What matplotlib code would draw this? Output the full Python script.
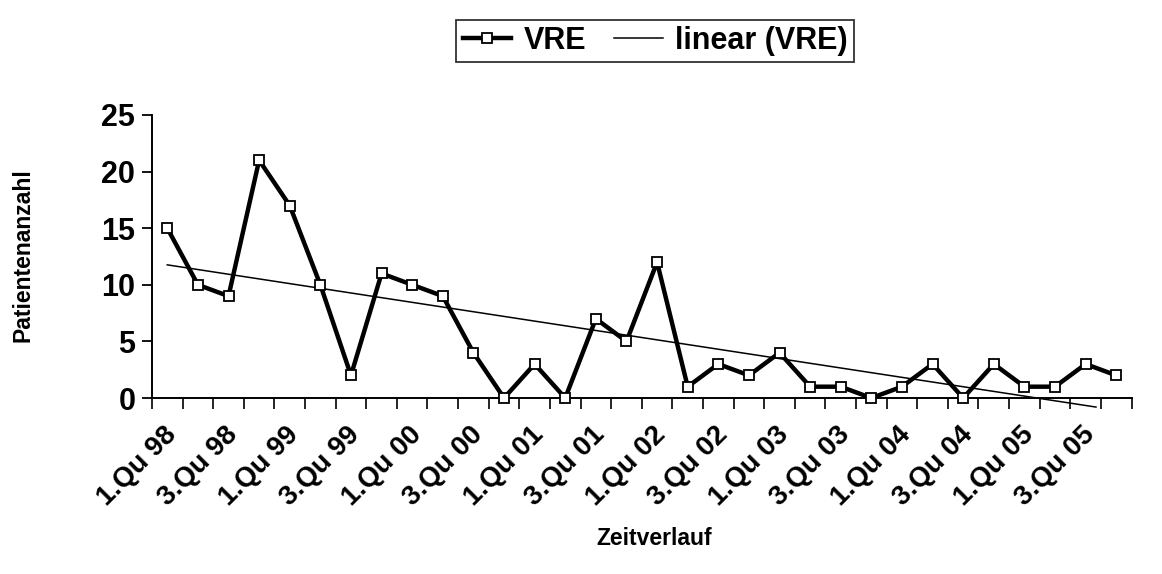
import numpy as np
import matplotlib.pyplot as plt
from matplotlib.ticker import FixedLocator
from matplotlib.transforms import ScaledTranslation

plt.rcParams['font.family'] = ['Liberation Sans', 'DejaVu Sans']

quarters = [f"{q}.Qu {y:02d}" for y in (98, 99, 0, 1, 2, 3, 4, 5) for q in (1, 2, 3, 4)]
vre = [15, 10, 9, 21, 17, 10, 2, 11, 10, 9, 4, 0, 3, 0, 7, 5,
       12, 1, 3, 2, 4, 1, 1, 0, 1, 3, 0, 3, 1, 1, 3, 2]

x = np.arange(len(vre))
fig = plt.figure(figsize=(11.62, 5.74), dpi=100)
ax = fig.add_axes([0.1308, 0.3066, 0.843, 0.4931])

ax.plot(x, vre, color='black', lw=3.2, marker='s', ms=7.5,
        mfc='white', mec='black', mew=1.3, label='VRE', zorder=3,
        clip_on=False)

# linear trend, stopped a little below the axis like the original
k, d = np.polyfit(x, vre, 1)
xe = (-0.8 - d) / k
xt = np.array([0, min(xe, len(vre) - 1)])
ax.plot(xt, k * xt + d, color='black', lw=1.1, label='linear (VRE)',
        zorder=2, clip_on=False)

ax.set_xlim(-0.5, len(vre) - 0.5)
ax.set_ylim(0, 25)
ax.set_yticks([0, 5, 10, 15, 20, 25])
ax.tick_params(axis='y', labelsize=22, length=7, width=1.3, pad=5)
for t in ax.get_yticklabels():
    t.set_fontweight('bold')

ax.set_xticks(x[::2])
ax.set_xticklabels(quarters[::2], rotation=45, ha='right',
                   rotation_mode='anchor', fontsize=20, fontweight='bold')
ax.tick_params(axis='x', which='major', length=0, pad=17)
shift = ScaledTranslation(-0.04, 0, fig.dpi_scale_trans)
for t in ax.get_xticklabels():
    t.set_transform(t.get_transform() + shift)
ax.xaxis.set_minor_locator(FixedLocator(np.arange(-0.5, len(vre) + 0.5, 1)))
ax.tick_params(axis='x', which='minor', length=8, width=1.2)

for s in ('top', 'right'):
    ax.spines[s].set_visible(False)
for s in ('left', 'bottom'):
    ax.spines[s].set_linewidth(1.4)

ax.set_xlabel('Zeitverlauf', fontsize=16.5, fontweight='bold')
ax.xaxis.set_label_coords(0.513, -0.455)
ax.set_ylabel('Patientenanzahl', fontsize=16.5, fontweight='bold')
ax.yaxis.set_label_coords(-0.12, 0.505)

leg = fig.legend(loc='center', bbox_to_anchor=(655 / 1162, 1 - 41 / 574),
                 ncol=2, frameon=True, fancybox=False, edgecolor='black',
                 prop={'size': 22, 'weight': 'bold'}, handlelength=1.6,
                 columnspacing=0.9, borderpad=0.2, handletextpad=0.4)
leg.get_frame().set_linewidth(1.3)

fig.savefig('out.png', dpi=100)
